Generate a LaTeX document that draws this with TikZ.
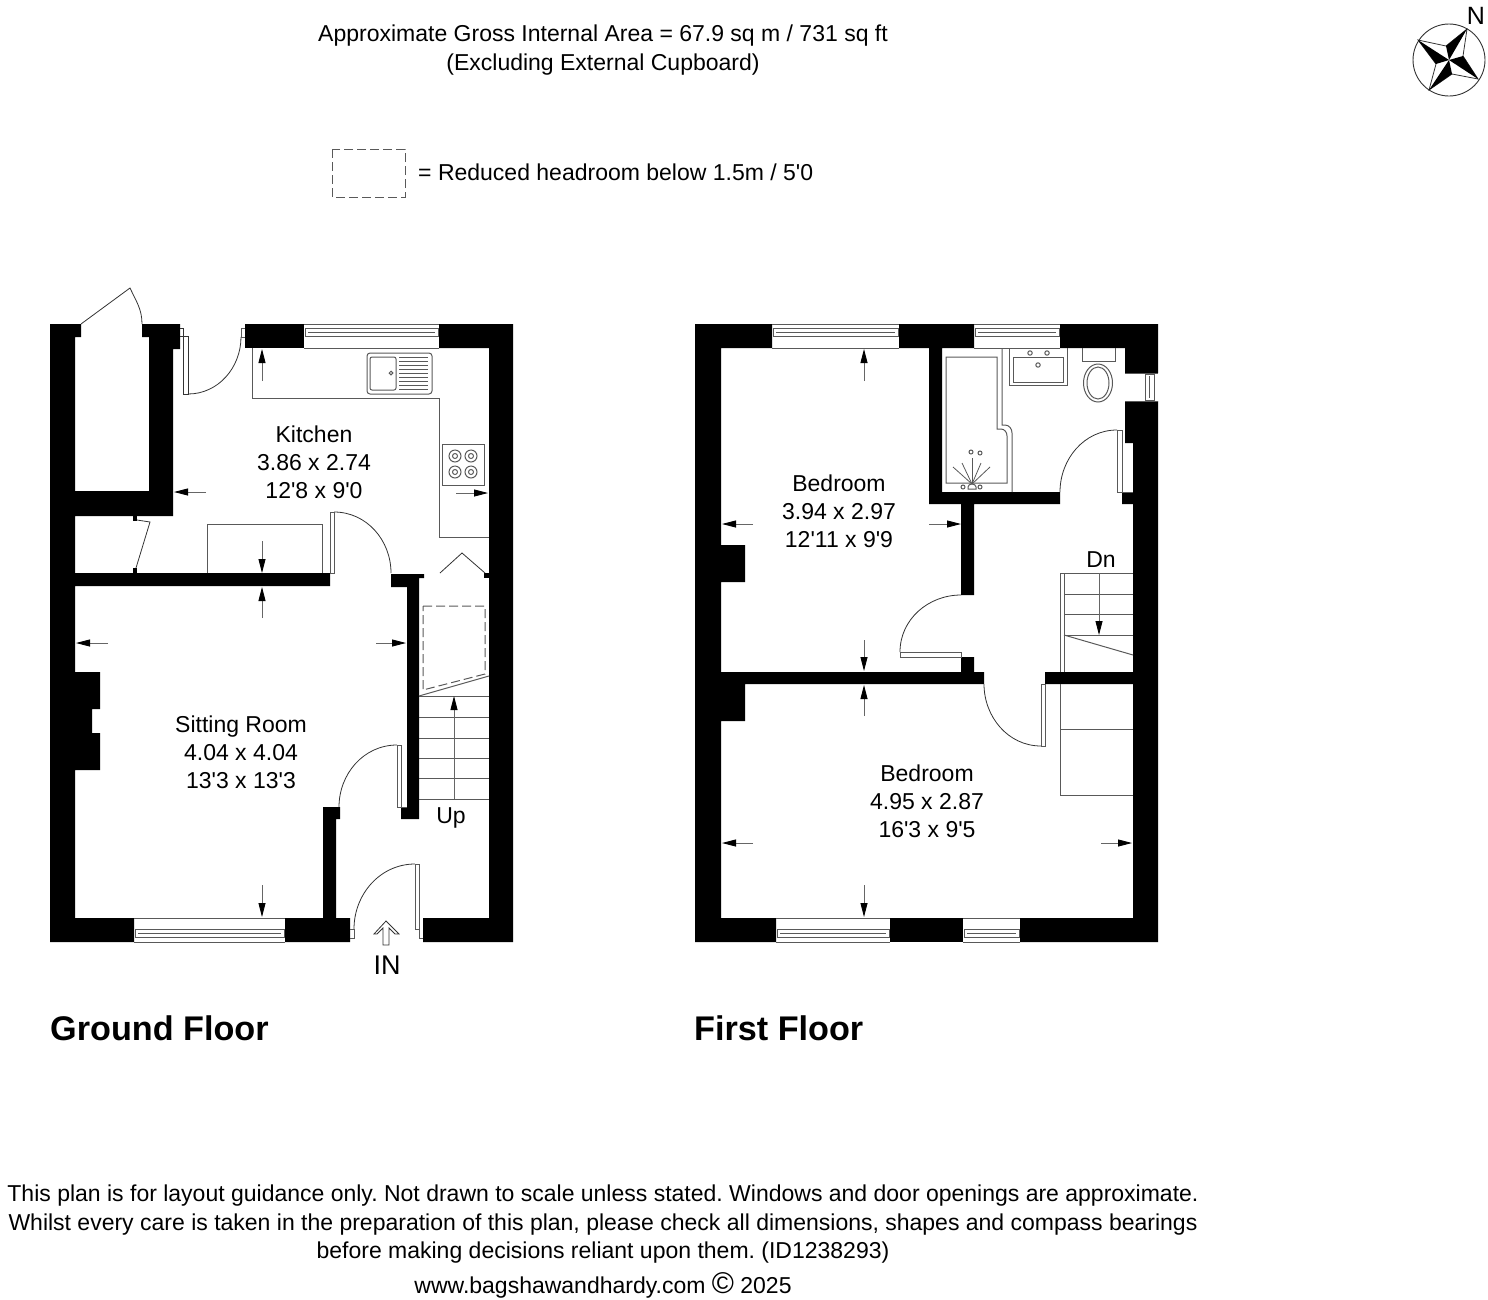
\documentclass[tikz,border=0pt]{standalone}
\usepackage{fontspec}
\setmainfont[Ligatures=TeXOff]{Liberation Sans}
\usetikzlibrary{arrows.meta}

\begin{document}
\frenchspacing
\begin{tikzpicture}[x=1pt, y=-1pt,
    wall/.style={fill=black},
    fitting/.style={draw=black!65, line width=1pt},
    door/.style={draw=black!80, line width=0.8pt},
    dim/.style={draw=black!60, line width=0.9pt, -{Triangle[length=14pt,width=7pt,black]}},
    roomlabel/.style={align=center, inner sep=0pt, font=\fontsize{23}{28}\selectfont},
    heading/.style={anchor=west, inner sep=0pt, font=\fontsize{34.2}{40}\selectfont\bfseries},
    note/.style={inner sep=0pt, font=\fontsize{23}{28}\selectfont}]

    \useasboundingbox (0,0) rectangle (1488,1299);

    % Header
    \node[note] (area) at (603,36) {Approximate Gross Internal Area = 67.9 sq m / 731 sq ft};
    \node[note] (excl) at (603,65) {(Excluding External Cupboard)};
    \draw[draw=black!65, line width=0.9pt, dash pattern=on 9pt off 4pt] (332,149) rectangle (405,197);
    \node[note, anchor=west] (legend) at (418,172) {= Reduced headroom below 1.5m / 5'0};

    % Compass
    \draw[black!80, line width=0.9pt] (1449,60) circle (36pt);
    \draw[black!80, line width=0.8pt] (1467,29) -- (1446,46) -- (1418,40) -- (1436,64) -- (1429,90)
        -- (1452,74) -- (1478,79) -- (1463,56) -- cycle;
    \fill (1467,29) -- (1446,46) -- (1449,60) -- cycle;
    \fill (1478,79) -- (1463,56) -- (1449,60) -- cycle;
    \fill (1429,90) -- (1452,74) -- (1449,60) -- cycle;
    \fill (1418,40) -- (1436,64) -- (1449,60) -- cycle;
    \node[inner sep=0pt, font=\fontsize{25}{30}\selectfont] (north) at (1476,16) {N};

    % Ground floor walls
    \fill[wall] (50,324) -- (81,324) -- (81,337) -- (75,337) -- (75,491) -- (149,491) -- (149,337)
        -- (142,337) -- (142,324) -- (180,324) -- (180,349) -- (173,349) -- (173,516) -- (75,516)
        -- (75,573) -- (330,573) -- (330,586) -- (75,586) -- (75,672) -- (100,672) -- (100,709)
        -- (92,709) -- (92,733) -- (100,733) -- (100,770) -- (75,770) -- (75,918) -- (134,918)
        -- (134,942) -- (50,942) -- cycle;
    \fill[wall] (285,918) -- (323,918) -- (323,807) -- (340,807) -- (340,819) -- (336,819) -- (336,918)
        -- (350,918) -- (350,942) -- (285,942) -- cycle;
    \fill[wall] (245,324) rectangle (304,348);
    \fill[wall] (439,324) -- (513,324) -- (513,942) -- (423,942) -- (423,918) -- (489,918) -- (489,348)
        -- (439,348) -- cycle;
    \fill[wall] (391,574) -- (424,574) -- (424,578) -- (419,578) -- (419,819) -- (401,819) -- (401,807)
        -- (407,807) -- (407,587) -- (391,587) -- cycle;
    \fill[wall] (133,516) rectangle (137,521);
    \fill[wall] (133,568) rectangle (137,573);
    \fill[wall] (484,573) rectangle (489,578);

    % First floor walls
    \fill[wall] (695,324) -- (772,324) -- (772,348) -- (721,348) -- (721,545) -- (745,545) -- (745,582)
        -- (721,582) -- (721,672) -- (961,672) -- (961,657) -- (974,657) -- (974,672) -- (984,672)
        -- (984,684) -- (745,684) -- (745,721) -- (721,721) -- (721,918) -- (776,918) -- (776,942)
        -- (695,942) -- cycle;
    \fill[wall] (890,918) rectangle (963,942);
    \fill[wall] (1020,918) -- (1133,918) -- (1133,684) -- (1045,684) -- (1045,672) -- (1133,672) -- (1133,504)
        -- (1122,504) -- (1122,492) -- (1133,492) -- (1133,443) -- (1125,443) -- (1125,401) -- (1158,401)
        -- (1158,942) -- (1020,942) -- cycle;
    \fill[wall] (1060,324) -- (1158,324) -- (1158,373) -- (1125,373) -- (1125,348) -- (1060,348) -- cycle;
    \fill[wall] (899,324) -- (974,324) -- (974,348) -- (942,348) -- (942,492) -- (1060,492) -- (1060,504)
        -- (974,504) -- (974,595) -- (961,595) -- (961,504) -- (929,504) -- (929,348) -- (899,348) -- cycle;

    % Windows
    \foreach \xa/\xb in {304/439, 772/899, 974/1060} {
        \draw[fitting] (\xa,324) -- (\xb,324) (\xa,348) -- (\xb,348);
        \draw[fitting] (\xa+1,328) rectangle (\xb-1,336) (\xa+4,332) -- (\xb-4,332);
    }
    \foreach \xa/\xb in {134/285, 776/890, 963/1020} {
        \draw[fitting] (\xa,918) -- (\xb,918) (\xa,942) -- (\xb,942);
        \draw[fitting] (\xa+1,929) rectangle (\xb-1,937) (\xa+4,933) -- (\xb-4,933);
    }
    \draw[fitting] (1125,373) -- (1158,373) (1125,401) -- (1158,401);
    \draw[fitting] (1145,374) rectangle (1154,400) (1149,376) -- (1149,398);

    % Doors
    \draw[door] (81,324) -- (130,288) to[out=-65, in=90] (142,324);
    \draw[door] (137,520) -- (150,522) -- (136,568);
    \draw[door] (180,328) -- (183,328) -- (183,336) (180,336) -- (188,336) -- (188,394) -- (183,394) -- (183,336);
    \draw[door] (188,394) to[out=0, in=-90] (241,337);
    \draw[fitting] (241,337) -- (241,328) -- (245,328) (241,337) -- (245,337);
    \draw[door] (334,512) to[out=0, in=90] (391,573);
    \draw[fitting] (330,573) -- (330,512) -- (334,512) -- (334,573) -- cycle;
    \draw[door] (440,573) -- (462,553) -- (485,573);
    \draw[door] (397,745) to[out=180, in=90] (339,807);
    \draw[fitting] (397,745) rectangle (401,807) (401,807) -- (407,807);
    \draw[door] (415,864) to[out=180, in=90] (354,929);
    \draw[fitting] (415,864) rectangle (419,929) (415,929) -- (419,929) -- (419,938) -- (423,938);
    \draw[fitting] (350,929) -- (354,929) -- (354,938) -- (350,938);
    \draw[door] (900,652) to[out=90, in=180] (961,595);
    \draw[fitting] (900,652) rectangle (961,657);
    \draw[door] (984,684) to[out=-90, in=180] (1041,746);
    \draw[fitting] (1041,684) rectangle (1045,746);
    \draw[door] (1117,430) to[out=180, in=90] (1060,492);
    \draw[fitting] (1117,430) rectangle (1122,492) (1122,492) -- (1133,492);

    % Entrance arrow
    \draw[door] (374,934) -- (386,921) -- (399,934) -- (395,934) -- (389,928) -- (389,945) -- (383,945)
        -- (383,928) -- (377,934) -- cycle;

    % Kitchen fittings
    \draw[fitting] (252,348) -- (252,398) -- (439,398) -- (439,537) -- (489,537);
    \draw[fitting] (207,573) -- (207,524) -- (322,524) -- (322,573);
    \draw[fitting, rounded corners=3pt] (367,353) rectangle (432,394);
    \draw[fitting, rounded corners=2pt] (370,357) rectangle (396,390);
    \foreach \y in {357,361,365,369,373,377,381,385,389} {
        \draw[fitting] (399,\y) -- (428,\y);
    }
    \draw[fitting] (391,373) circle (1.8pt);
    \draw[fitting] (442,444) rectangle (484,485);
    \foreach \x in {455,471} {
        \foreach \y in {456,472} {
            \draw[fitting] (\x,\y) circle (6pt) (\x,\y) circle (2.5pt);
        }
    }

    % Cupboard under stairs
    \draw[draw=black!65, line width=1pt, dash pattern=on 9pt off 4pt] (423,606) -- (485,606) -- (485,674) -- (423,690) -- cycle;

    % Stairs up
    \foreach \y in {696,717,738,758,778,799} {
        \draw[fitting] (419,\y) -- (489,\y);
    }
    \draw[fitting] (419,696) -- (489,676);
    \draw[dim] (454,799) -- (454,696);

    % Stairs down
    \draw[fitting] (1060,672) -- (1060,573) -- (1133,573);
    \draw[fitting] (1064,672) -- (1064,573);
    \foreach \y in {594,614,635} {
        \draw[fitting] (1064,\y) -- (1133,\y);
    }
    \draw[fitting] (1064,635) -- (1133,655);
    \draw[dim] (1099,573) -- (1099,635);
    \draw[fitting] (1060,684) -- (1060,795) -- (1133,795) (1060,729) -- (1133,729);

    % Bathroom
    \draw[fitting] (1002,348) -- (1002,425) -- (1005,425) to[out=0, in=90] (1012,433) -- (1012,492);
    \draw[fitting] (946,357) -- (997,357) -- (997,429) -- (1001,429) to[out=0, in=90] (1007,436) -- (1007,483) -- (946,483) -- cycle;
    \draw[fitting] (1009,348) -- (1009,385) -- (1067,385) -- (1067,348);
    \draw[fitting] (1013,357) rectangle (1063,382);
    \foreach \x/\y in {1030/353, 1047/353, 1038/365} {
        \draw[fitting] (\x,\y) circle (2.2pt);
    }
    \draw[fitting] (1082,348) -- (1082,361) -- (1115,361) -- (1115,348);
    \draw[fitting] (1098,383) ellipse (14.5pt and 19pt);
    \draw[fitting] (1098,383) ellipse (11pt and 16pt);
    \foreach \x/\y in {953/467, 962/463, 972/458, 981/463, 990/467} {
        \draw[draw=black!65, line width=0.8pt] (972,484) -- (\x,\y);
    }
    \foreach \x/\y in {963/487, 980/487, 971/452, 980/453} {
        \draw[fitting] (\x,\y) circle (2pt);
    }
    \draw[fitting] (968,489) -- (968,487) to[out=90, in=180] (972,484) to[out=0, in=90] (976,487) -- (976,489) -- cycle;

    % Dimension arrows
    \foreach \xa/\ya/\xb/\yb in {206/492/174/492, 456/493/488/493, 262/381/262/349, 262/541/262/573,
        262/618/262/587, 262/885/262/917, 108/643/76/643, 376/643/406/643,
        753/524/722/524, 929/524/961/524, 864/381/864/349, 864/640/864/671,
        864/716/864/685, 864/885/864/917, 753/843/722/843, 1101/843/1132/843} {
        \draw[dim] (\xa,\ya) -- (\xb,\yb);
    }

    % Room labels
    \node[roomlabel] (kitchen) at (314,462) {Kitchen\\3.86 x 2.74\\12'8 x 9'0};
    \node[roomlabel] (sitting) at (241,752) {Sitting Room\\4.04 x 4.04\\13'3 x 13'3};
    \node[roomlabel] (bedroomback) at (839,511) {Bedroom\\3.94 x 2.97\\12'11 x 9'9};
    \node[roomlabel] (bedroomfront) at (927,801) {Bedroom\\4.95 x 2.87\\16'3 x 9'5};
    \node[note] (up) at (451,818) {Up};
    \node[note] (dn) at (1101,560) {Dn};
    \node[note, font=\fontsize{27}{32}\selectfont] (in) at (387,965) {IN};

    % Floor names
    \node[heading] (ground) at (50,1028) {Ground Floor};
    \node[heading] (first) at (694,1028) {First Floor};

    % Footer
    \node[note] (foota) at (603,1196) {This plan is for layout guidance only. Not drawn to scale unless stated. Windows and door openings are approximate.};
    \node[note] (footb) at (603,1224.5) {Whilst every care is taken in the preparation of this plan, please check all dimensions, shapes and compass bearings};
    \node[note] (footc) at (603,1253) {before making decisions reliant upon them. (ID1238293)};
    \node[note] (footd) at (603,1285) {www.bagshawandhardy.com {\fontsize{30}{30}\selectfont ©} 2025};
\end{tikzpicture}
\end{document}
